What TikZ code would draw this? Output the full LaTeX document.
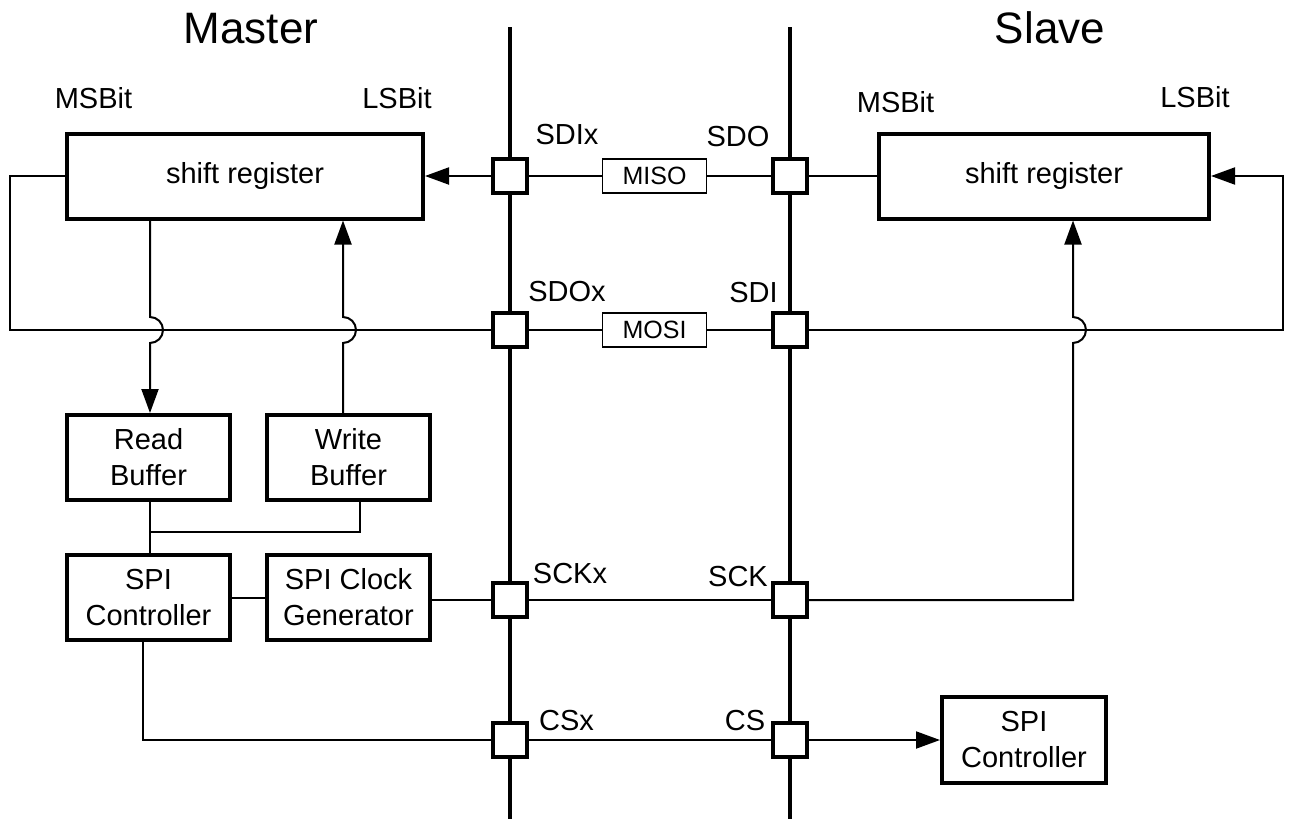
\documentclass[tikz,border=0pt]{standalone}
\usepackage{fontspec}
\setmainfont{Liberation Sans}
\usetikzlibrary{arrows.meta}

\tikzset{
  wire/.style={line width=2pt},
  arr/.style={wire, -{Triangle[length=24pt,width=17pt]}},
  bus/.style={line width=4pt},
  block/.style={draw, line width=4pt, inner sep=0pt, align=center,
    font=\fontsize{29}{36}\selectfont},
  pinbox/.style={draw, line width=4pt, minimum size=34pt, inner sep=0pt},
  sigbox/.style={draw, line width=1.5pt, minimum width=104pt,
    minimum height=34pt, inner sep=0pt, font=\fontsize{25}{28}\selectfont},
  lbl/.style={anchor=base, inner sep=0pt, font=\fontsize{29}{34}\selectfont},
  title/.style={anchor=base, inner sep=0pt, font=\fontsize{44}{50}\selectfont},
}

\begin{document}
\begin{tikzpicture}[x=1pt, y=1pt]
  \useasboundingbox (0,0) rectangle (1289,-819);

  % titles
  \node[title] (tMaster) at (251,-43) {Master};
  \node[title] (tSlave) at (1050,-43) {Slave};

  % blocks
  \node[block, minimum width=356pt, minimum height=85pt] (srM) at (245,-176) {shift register};
  \node[block, minimum width=330pt, minimum height=85pt] (srS) at (1044,-176) {shift register};
  \node[block, minimum width=163pt, minimum height=85pt] (rdBuf) at (148.5,-457.5) {Read\\Buffer};
  \node[block, minimum width=163pt, minimum height=85pt] (wrBuf) at (348.5,-457.5) {Write\\Buffer};
  \node[block, minimum width=163pt, minimum height=85pt] (ctrlM) at (148.5,-597.5) {SPI\\Controller};
  \node[block, minimum width=163pt, minimum height=85pt] (clkGen) at (348.5,-597.5) {SPI Clock\\Generator};
  \node[block, minimum width=164pt, minimum height=86pt] (ctrlS) at (1024,-740) {SPI\\Controller};

  % bit labels
  \node[lbl] (msbM) at (93.5,-108) {MSBit};
  \node[lbl] (lsbM) at (397,-108) {LSBit};
  \node[lbl] (msbS) at (895.5,-112) {MSBit};
  \node[lbl] (lsbS) at (1195,-107) {LSBit};

  % pins
  \node[pinbox] (pSDIx) at (510,-176) {};
  \node[pinbox] (pSDO) at (790,-176) {};
  \node[pinbox] (pSDOx) at (510,-330) {};
  \node[pinbox] (pSDI) at (790,-330) {};
  \node[pinbox] (pSCKx) at (510,-600) {};
  \node[pinbox] (pSCK) at (790,-600) {};
  \node[pinbox] (pCSx) at (510,-740) {};
  \node[pinbox] (pCS) at (790,-740) {};

  % pin labels
  \node[lbl] (lSDIx) at (567,-144) {SDIx};
  \node[lbl] (lSDO) at (738,-146) {SDO};
  \node[lbl] (lSDOx) at (567,-301) {SDOx};
  \node[lbl] (lSDI) at (753.5,-302) {SDI};
  \node[lbl] (lSCKx) at (570,-583) {SCKx};
  \node[lbl] (lSCK) at (738,-586) {SCK};
  \node[lbl] (lCSx) at (566.5,-730) {CSx};
  \node[lbl] (lCS) at (745,-730) {CS};

  % bus lines
  \coordinate (busLtop) at (510,-27);
  \coordinate (busLbot) at (510,-819);
  \coordinate (busRtop) at (790,-27);
  \coordinate (busRbot) at (790,-819);
  \draw[bus] (busLtop) -- (pSDIx) -- (pSDOx) -- (pSCKx) -- (pCSx) -- (busLbot);
  \draw[bus] (busRtop) -- (pSDO) -- (pSDI) -- (pSCK) -- (pCS) -- (busRbot);

  % signal boxes
  \node[sigbox] (miso) at (654.5,-176) {MISO};
  \node[sigbox] (mosi) at (654.5,-330) {MOSI};

  % MISO row
  \draw[wire] (pSDIx) -- (miso) -- (pSDO) -- (srS);
  \draw[arr] (pSDIx) -- (srM);

  % MOSI row
  \coordinate (loopL) at (10,-176);
  \coordinate (loopR) at (1283,-176);
  \draw[wire] (pSDOx) -- (mosi) -- (pSDI);
  \draw[wire] (srM) -- (loopL) |- (pSDOx);
  \draw[arr] (pSDI) -| (loopR) -- (srS);

  % master side with jumps
  \draw[arr] (srM.south -| 150,0) -- (150,-317) arc[start angle=90, end angle=-90, radius=13]
    -- (rdBuf.north -| 150,0);
  \draw[arr] (wrBuf.north -| 343,0) -- (343,-343) arc[start angle=-90, end angle=90, radius=13]
    -- (srM.south -| 343,0);
  \coordinate (bufJoin) at (150,-532);
  \draw[wire] (rdBuf.south -| bufJoin) -- (bufJoin) -| (wrBuf.south -| 360,0);
  \draw[wire] (bufJoin) -- (ctrlM.north -| bufJoin);
  \draw[wire] (ctrlM) -- (clkGen);

  % SCK row
  \draw[wire] (clkGen.east |- pSCKx) -- (pSCKx) -- (pSCK);
  \draw[arr] (pSCK) -- (1073,-600) -- (1073,-343)
    arc[start angle=-90, end angle=90, radius=13] -- (srS.south -| 1073,0);

  % CS row
  \draw[wire] (ctrlM.south -| 143,0) |- (pCSx) -- (pCS);
  \draw[arr] (pCS) -- (ctrlS);
\end{tikzpicture}
\end{document}
